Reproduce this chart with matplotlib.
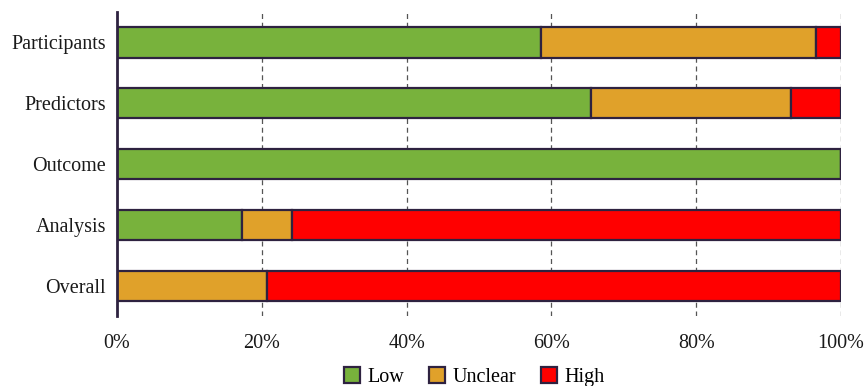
import matplotlib
matplotlib.use('Agg')
import matplotlib.pyplot as plt
from matplotlib.patches import Patch

categories = ['Participants', 'Predictors', 'Outcome', 'Analysis', 'Overall']
low = [58.6, 65.5, 100.0, 17.2, 0.0]
unclear = [37.9, 27.6, 0.0, 6.9, 20.7]
high = [3.5, 6.9, 0.0, 75.9, 79.3]
series_names = ['Low', 'Unclear', 'High']
ticks = [0, 20, 40, 60, 80, 100]

colors = ['#78b23c', '#e0a12a', '#ff0000']
edge = '#2e2240'

plt.rcParams['font.family'] = ['Liberation Serif', 'DejaVu Serif']
plt.rcParams['font.size'] = 14.5

fig = plt.figure(figsize=(8.67, 3.86), dpi=100)
ax = fig.add_axes([0.135, 0.181, 0.835, 0.788])

ypos = list(range(len(categories)))
left = [0.0] * len(categories)
for vals, col in zip([low, unclear, high], colors):
    ax.barh(ypos, vals, left=left, height=0.5, color=col, edgecolor=edge,
            linewidth=1.6, zorder=3)
    left = [a + b for a, b in zip(left, vals)]

ax.set_ylim(4.5, -0.5)
ax.set_xlim(0, 100)
ax.set_yticks(ypos)
ax.set_yticklabels(categories, color='#1a1a1a')
ax.set_xticks(ticks)
ax.set_xticklabels([f'{t}%' for t in ticks], color='#1a1a1a')
ax.tick_params(axis='both', length=0)
ax.tick_params(axis='x', pad=13)
ax.tick_params(axis='y', pad=8)

for t in ticks[1:]:
    ax.axvline(t, color='#555555', linestyle=(0, (4, 3)), linewidth=0.9, zorder=1)

for s in ['top', 'right', 'bottom']:
    ax.spines[s].set_visible(False)
ax.spines['left'].set_linewidth(2)
ax.spines['left'].set_color(edge)
ax.spines['left'].set_zorder(4)

handles = [Patch(facecolor=c, edgecolor=edge, linewidth=1.6, label=n)
           for c, n in zip(colors, series_names)]
fig.legend(handles=handles, loc='lower center', ncol=3, frameon=False,
           bbox_to_anchor=(0.547, -0.05), handlelength=0.8, handleheight=0.8,
           handletextpad=0.4, columnspacing=1.2)

fig.savefig('out.png', dpi=100)
